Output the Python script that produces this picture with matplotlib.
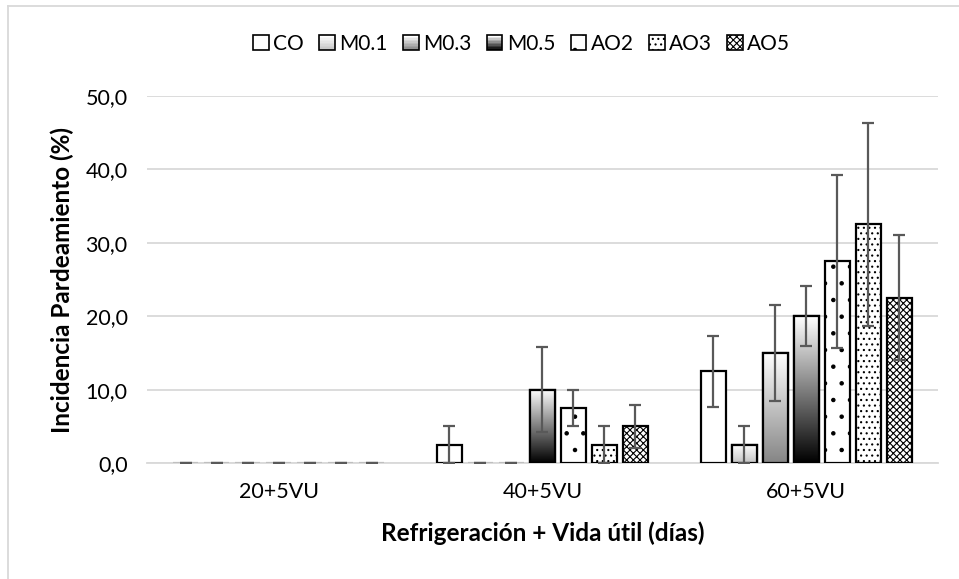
import numpy as np
import matplotlib
matplotlib.use("Agg")
import matplotlib.pyplot as plt
from matplotlib.patches import Rectangle
from matplotlib.lines import Line2D
from matplotlib.legend_handler import HandlerBase
from matplotlib.colors import LinearSegmentedColormap

plt.rcParams['font.family'] = ['Lato', 'DejaVu Sans']
plt.rcParams['hatch.linewidth'] = 0.8

# data
groups = ['20+5VU', '40+5VU', '60+5VU']
series = ['CO', 'M0.1', 'M0.3', 'M0.5', 'AO2', 'AO3', 'AO5']
values = {
    'CO':   [0, 2.5, 12.5],
    'M0.1': [0, 0, 2.5],
    'M0.3': [0, 0, 15.0],
    'M0.5': [0, 10.0, 20.0],
    'AO2':  [0, 7.5, 27.5],
    'AO3':  [0, 2.5, 32.5],
    'AO5':  [0, 5.0, 22.5],
}
errors = {
    'CO':   [0, 2.5, 4.8],
    'M0.1': [0, 0, 2.5],
    'M0.3': [0, 0, 6.5],
    'M0.5': [0, 5.8, 4.1],
    'AO2':  [0, 2.5, 11.8],
    'AO3':  [0, 2.5, 13.8],
    'AO5':  [0, 2.9, 8.5],
}

# styling: (bottom colour of gradient or None, hatch)
styles = {
    'CO':   (None, ''),
    'M0.1': ('#c4c4c4', ''),
    'M0.3': ('#858585', ''),
    'M0.5': ('#000000', ''),
    'AO2':  (None, '.'),
    'AO3':  (None, '...'),
    'AO5':  (None, 'xxxxx'),
}

fig = plt.figure(figsize=(9.59, 5.79), dpi=100)
ax = fig.add_axes([0.1533, 0.2003, 0.8247, 0.6339])
ax.set_xlim(-0.5, 2.5)
ax.set_ylim(0, 50)

x = np.arange(len(groups))
step = 0.1176
width = 0.095
grad = np.linspace(0, 1, 256).reshape(-1, 1)

for i, s in enumerate(series):
    pos = x + (i - 3) * step
    bottom_col, hatch = styles[s]
    edge = ['black' if v > 0 else '#bfbfbf' for v in values[s]]
    bars = ax.bar(pos, values[s], width, color='white', edgecolor=edge,
                  linewidth=1.6, hatch=hatch, zorder=3)
    if bottom_col is not None:
        cmap = LinearSegmentedColormap.from_list(s, ['white', bottom_col])
        for b in bars:
            h = b.get_height()
            if h <= 0:
                continue
            im = ax.imshow(grad, cmap=cmap, aspect='auto', origin='upper',
                           extent=[b.get_x(), b.get_x() + b.get_width(), 0, h],
                           zorder=3.5)
            im.set_clip_path(b)
            ax.add_patch(Rectangle((b.get_x(), 0), b.get_width(), h, fill=False,
                                   edgecolor='black', linewidth=1.6, zorder=3.6))
    ax.errorbar(pos, values[s], yerr=errors[s], fmt='none', ecolor='#595959',
                elinewidth=1.6, capsize=4.5, capthick=1.6, zorder=4)

ax.set_xlim(-0.5, 2.5)
ax.set_ylim(0, 50)
ax.set_xticks(x)
ax.set_xticklabels(groups, fontsize=15.5)
ax.set_yticks(np.arange(0, 51, 10))
ax.set_yticklabels([f'{v:.1f}'.replace('.', ',') for v in np.arange(0, 51, 10)],
                   fontsize=15.5)
ax.tick_params(length=0)
ax.tick_params(axis='y', pad=14)
ax.tick_params(axis='x', pad=14)
ax.yaxis.grid(True, color='#d9d9d9', linewidth=1.3, zorder=0)
ax.set_axisbelow(True)
for sp in ['top', 'right', 'left']:
    ax.spines[sp].set_visible(False)
ax.spines['bottom'].set_color('#d9d9d9')
ax.spines['bottom'].set_linewidth(1.3)

ax.set_xlabel('Refrigeración + Vida útil (días)', fontsize=17.5, fontweight='bold')
ax.set_ylabel('Incidencia Pardeamiento (%)', fontsize=17.5, fontweight='bold')
ax.xaxis.set_label_coords(0.5, -0.158)
ax.yaxis.set_label_coords(-0.092, 0.5)


class GradHandler(HandlerBase):
    def __init__(self, bottom_col):
        super().__init__()
        self.bottom_col = bottom_col

    def create_artists(self, legend, orig_handle, xdescent, ydescent, width,
                       height, fontsize, trans):
        cmap = LinearSegmentedColormap.from_list('g', ['white', self.bottom_col])
        n = 10
        arts = []
        for k in range(n):
            arts.append(Rectangle((-xdescent, -ydescent + height * (n - 1 - k) / n),
                                  width, height / n, facecolor=cmap(k / (n - 1)),
                                  edgecolor='none', transform=trans))
        arts.append(Rectangle((-xdescent, -ydescent), width, height, fill=False,
                              edgecolor='black', linewidth=1.2, transform=trans))
        return arts


handles = []
handler_map = {}
for s in series:
    bottom_col, hatch = styles[s]
    h = Rectangle((0, 0), 1, 1, facecolor='white', edgecolor='black',
                  linewidth=1.2, hatch=hatch)
    handles.append(h)
    if bottom_col is not None:
        handler_map[h] = GradHandler(bottom_col)

fig.legend(handles, series, handler_map=handler_map, loc='center',
           bbox_to_anchor=(0.544, 0.924), ncol=7, frameon=False, fontsize=15,
           handlelength=0.75, handleheight=0.75, handletextpad=0.2,
           columnspacing=0.75)

# chart-area border (top and left visible)
fig.add_artist(Line2D([8 / 959, 8 / 959], [0, 1 - 6 / 579], color='#d9d9d9',
                      linewidth=1.3, transform=fig.transFigure))
fig.add_artist(Line2D([8 / 959, 1], [1 - 6 / 579, 1 - 6 / 579], color='#d9d9d9',
                      linewidth=1.3, transform=fig.transFigure))

fig.savefig('out.png', dpi=100)
